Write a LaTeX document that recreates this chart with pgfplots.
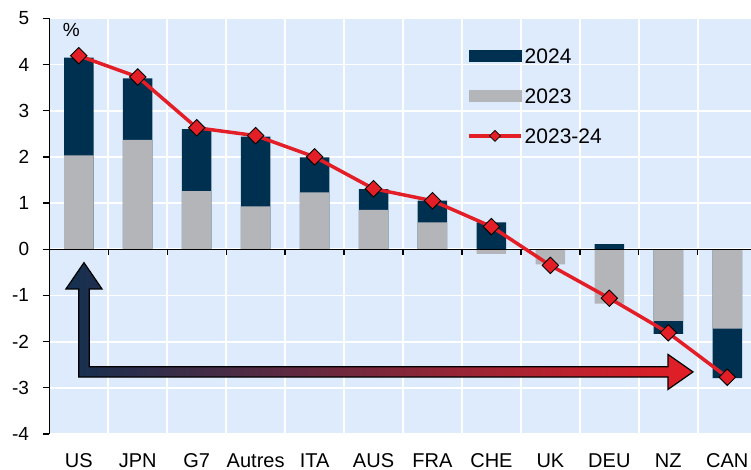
\documentclass[border=0pt]{standalone}
\usepackage{fontspec}
\setmainfont{Liberation Sans}
\usepackage{pgfplots}
\pgfplotsset{compat=1.18}
\definecolor{bgblue}{RGB}{221,235,252}
\definecolor{navy}{RGB}{0,48,80}
\definecolor{cgray}{RGB}{180,181,185}
\definecolor{cred}{RGB}{228,30,38}
\definecolor{anavy}{RGB}{20,48,80}
\begin{document}
\begin{tikzpicture}
\useasboundingbox (0,0) rectangle (751pt,470pt);
\begin{axis}[
  at={(49.3pt,36pt)}, anchor=south west,
  scale only axis, width=701.7pt, height=415.7pt,
  xmin=-0.5, xmax=11.403, ymin=-4, ymax=5,
  axis background/.style={fill=bgblue},
  axis y line*=left, axis x line*=bottom,
  x axis line style={draw=none},
  y axis line style={line width=1.3pt, black},
  ytick={-4,-3,-2,-1,0,1,2,3,4,5},
  yticklabels={-4,-3,-2,-1,0,1,2,3,4,5},
  tick align=outside,
  major tick length=6.7pt,
  ytick style={line width=1.3pt, black},
  xtick={0,1,2,3,4,5,6,7,8,9,10,11},
  xticklabels={US,JPN,G7,Autres,ITA,AUS,FRA,CHE,UK,DEU,NZ,CAN},
  xtick style={draw=none},
  minor xtick={0.5,1.5,2.5,3.5,4.5,5.5,6.5,7.5,8.5,9.5,10.5},
  minor x tick style={draw=none},
  xminorgrids, ymajorgrids,
  grid style={white, line width=1.8pt},
  yticklabel style={font=\fontsize{19}{21}\selectfont, xshift=-10pt},
  xticklabel style={font=\fontsize{20}{22}\selectfont, anchor=north, text height=15pt, text depth=4pt, yshift=-8pt},
  legend style={at={(0.5953,0.937)}, anchor=north west, draw=none, fill=none,
    inner sep=0pt, row sep=17.6pt,
    nodes={inner sep=2pt, text height=16.4pt, text depth=2pt, font=\fontsize{21}{23}\selectfont}},
  legend cell align=left,
]
% 2024 (extent of the stacked bar, incl. 2023 part)
\addplot[ybar, bar width=29.5pt, bar shift=0pt, fill=navy, draw=none, forget plot] coordinates {
(0,4.15) (1,3.70) (2,2.60) (3,2.44) (4,1.99) (5,1.30) (6,1.05) (7,0.58) (8,0) (9,0.11) (10,-1.83) (11,-2.79)};
% 2023
\addplot[ybar, bar width=29.5pt, bar shift=0pt, fill=cgray, draw=none, forget plot] coordinates {
(0,2.03) (1,2.37) (2,1.26) (3,0.93) (4,1.23) (5,0.85) (6,0.58) (7,-0.10) (8,-0.33) (9,-1.18) (10,-1.55) (11,-1.72)};
% zero line with ticks
\draw[line width=1.3pt, black] (axis cs:-0.5,0) -- (axis cs:11.403,0);
\pgfplotsinvokeforeach{0.5,1.5,2.5,3.5,4.5,5.5,6.5,7.5,8.5,9.5,10.5}{
  \draw[line width=1.3pt, black] (axis cs:#1,0) -- ++(0pt,-6pt);
}
% arrow
\draw[left color=anavy, right color=cred, draw=black, line width=1.2pt]
  (axis cs:0,-2.768) -- (axis cs:9.995,-2.768) -- (axis cs:9.995,-3.035)
  -- (axis cs:10.419,-2.656) -- (axis cs:9.995,-2.277) -- (axis cs:9.995,-2.543)
  -- (axis cs:0.1764,-2.543) -- (axis cs:0.1764,-0.859) -- (axis cs:0.3936,-0.859)
  -- (axis cs:0.0882,-0.290) -- (axis cs:-0.2171,-0.859) -- (axis cs:0,-0.859) -- cycle;
% 2023-24
\addplot[cred, line width=3.5pt, mark=square*, mark size=5.8pt,
  mark options={rotate=45, fill=cred, draw=black, line width=0.9pt, solid}, forget plot] coordinates {
(0,4.19) (1,3.73) (2,2.63) (3,2.46) (4,2.00) (5,1.31) (6,1.05) (7,0.49) (8,-0.35) (9,-1.06) (10,-1.81) (11,-2.77)};
\node[font=\fontsize{19}{21}\selectfont] at (axis cs:-0.127,4.75) {\%};
% legend
\addlegendimage{legend image code/.code={\fill[navy] (0pt,-5.3pt) rectangle (52pt,5.3pt);}}
\addlegendentry{2024}
\addlegendimage{legend image code/.code={\fill[cgray] (0pt,-5.3pt) rectangle (52pt,5.3pt);}}
\addlegendentry{2023}
\addlegendimage{legend image code/.code={\draw[cred, line width=3.5pt] (0pt,0pt) -- (52pt,0pt);
  \filldraw[fill=cred, draw=black, line width=0.8pt, rotate around={45:(26pt,0pt)}] (22.1pt,-3.9pt) rectangle (29.9pt,3.9pt);}}
\addlegendentry{2023-24}
\end{axis}
\end{tikzpicture}
\end{document}
